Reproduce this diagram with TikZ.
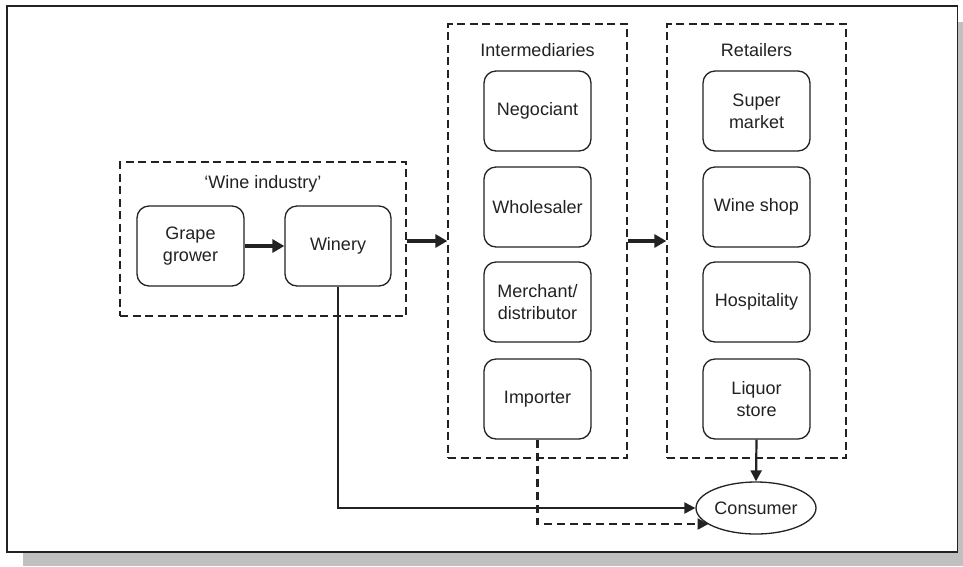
\documentclass[tikz,border=0pt]{standalone}
\usepackage{fontspec}
\setmainfont{Liberation Sans}
\usetikzlibrary{arrows.meta,shapes.geometric,calc}
\definecolor{ink}{HTML}{222222}
\definecolor{shadowgray}{HTML}{C0C0C0}
\tikzset{
  unit/.style={draw=ink, line width=1.3pt, rounded corners=12pt, minimum width=107pt, minimum height=80pt, align=center, inner sep=2pt, font=\fontsize{18}{22}\selectfont, text=ink},
  group/.style={draw=ink, line width=1.3pt, dash pattern=on 8pt off 4.5pt, minimum width=179pt, minimum height=434pt},
  grouplabel/.style={font=\fontsize{18}{22}\selectfont, text=ink},
  bigarrow/.style={draw=ink, line width=4.5pt, -{Triangle[length=12pt,width=13pt]}},
  flow/.style={draw=ink, line width=2.2pt, -{Triangle[length=11pt,width=11pt]}},
  dflow/.style={draw=ink, line width=2.2pt, dash pattern=on 8pt off 5pt, -{Triangle[length=11pt,width=11pt]}},
}
\begin{document}
\begin{tikzpicture}[x=1pt,y=-1pt]
\useasboundingbox (0,0) rectangle (963,566);
% frame and shadow
\fill[shadowgray] (23,22) rectangle (963,566);
\draw[fill=white, draw=ink, line width=1.6pt] (7,6) rectangle (957.5,552);
% wine industry group
\node[group, minimum width=286pt, minimum height=154pt] (wi) at (263,239) {};
\node[grouplabel] (wil) at (263,184) {‘Wine industry’};
\node[unit] (gg) at (190.5,246) {Grape\\grower};
\node[unit, minimum width=106pt] (win) at (338,246) {Winery};
% intermediaries
\node[group] (int) at (537.5,241) {};
\node[grouplabel] (intl) at (537.5,50) {Intermediaries};
\node[unit] (neg) at (537.5,111) {Negociant};
\node[unit] (who) at (537.5,207) {Wholesaler};
\node[unit] (mer) at (537.5,302) {Merchant/\\distributor};
\node[unit] (imp) at (537.5,399) {Importer};
% retailers
\node[group] (ret) at (756.5,241) {};
\node[grouplabel] (retl) at (756.5,50) {Retailers};
\node[unit] (sup) at (756.5,111) {Super\\market};
\node[unit] (shop) at (756.5,207) {Wine shop};
\node[unit] (hos) at (756.5,302) {Hospitality};
\node[unit] (liq) at (756.5,399) {Liquor\\store};
% consumer
\node[ellipse, draw=ink, line width=1.3pt, minimum width=120pt, minimum height=52pt, inner sep=0pt, font=\fontsize{18}{22}\selectfont, text=ink] (con) at (756,508) {Consumer};
\coordinate (cin) at ($(con.center)+(-47.5,16)$);
% connectors
\draw[bigarrow] (gg.east) -- (win.west);
\draw[bigarrow] (wi.east |- int.west) -- (int.west);
\draw[bigarrow] (int.east) -- (ret.west);
\draw[flow] (liq.south) -- (con.north);
\draw[flow] (win.south) |- (con.west);
\draw[dflow] (imp.south) |- (cin);
\end{tikzpicture}
\end{document}
